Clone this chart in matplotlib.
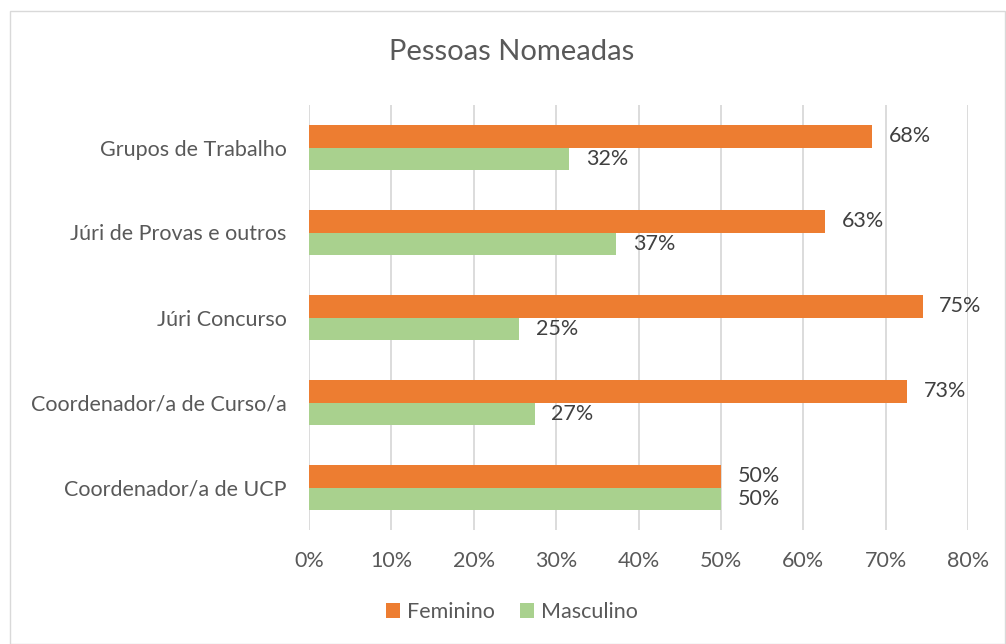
import matplotlib
matplotlib.use("Agg")
import matplotlib.pyplot as plt
import numpy as np
from matplotlib.patches import Rectangle

categories = ["Coordenador/a de UCP", "Coordenador/a de Curso/a", "Júri Concurso",
              "Júri de Provas e outros", "Grupos de Trabalho"]
feminino = [0.50, 0.726, 0.745, 0.627, 0.684]
masculino = [0.50, 0.274, 0.255, 0.373, 0.316]
feminino_labels = ["50%", "73%", "75%", "63%", "68%"]
masculino_labels = ["50%", "27%", "25%", "37%", "32%"]
xticks = [0, 0.1, 0.2, 0.3, 0.4, 0.5, 0.6, 0.7, 0.8]
xtick_labels = ["0%", "10%", "20%", "30%", "40%", "50%", "60%", "70%", "80%"]

plt.rcParams['font.family'] = ['Lato', 'DejaVu Sans']

fig = plt.figure(figsize=(10.06, 6.44), dpi=100)
ax = fig.add_axes([309/1006, 1-530/644, (968-309)/1006, (530-105)/644])

orange = "#ED7D31"
green = "#A9D18E"
txt = "#595959"
fs = 15.5

y = np.arange(len(categories))
h = 0.26
ax.barh(y + h/2, feminino, height=h, color=orange, label="Feminino", zorder=3)
ax.barh(y - h/2, masculino, height=h, color=green, label="Masculino", zorder=3)

for yi, v, lab in zip(y, feminino, feminino_labels):
    ax.annotate(lab, (v, yi + h/2), xytext=(12, 0), textcoords="offset points",
                va="center", ha="left", fontsize=fs, color="#404040")
for yi, v, lab in zip(y, masculino, masculino_labels):
    ax.annotate(lab, (v, yi - h/2), xytext=(12, 0), textcoords="offset points",
                va="center", ha="left", fontsize=fs, color="#404040")

ax.set_xlim(0, 0.8)
ax.set_ylim(-0.5, len(categories) - 0.5)
ax.set_xticks(xticks)
ax.set_xticklabels(xtick_labels, fontsize=fs, color=txt)
ax.set_yticks(y)
ax.set_yticklabels(categories, fontsize=fs, color=txt)
ax.tick_params(axis="both", length=0)
ax.tick_params(axis="y", pad=16)
ax.tick_params(axis="x", pad=15)
ax.grid(axis="x", color="#D9D9D9", linewidth=1.3, zorder=0)
for s in ax.spines.values():
    s.set_visible(False)

fig.text(512/1006, 1-52/644, "Pessoas Nomeadas", ha="center", va="center",
         fontsize=21, color=txt)

leg = fig.legend(loc="center", bbox_to_anchor=(512/1006, 1-612/644), ncol=2,
                 frameon=False, fontsize=fs, handlelength=0.65, handleheight=0.65,
                 handletextpad=0.3, columnspacing=1.2)
for t in leg.get_texts():
    t.set_color(txt)

fig.patches.append(Rectangle((10/1006, 0.5/644), (1005-10)/1006, (643-10)/644,
                             transform=fig.transFigure, fill=False,
                             edgecolor="#D9D9D9", linewidth=1))

fig.savefig("out.png", dpi=100)
